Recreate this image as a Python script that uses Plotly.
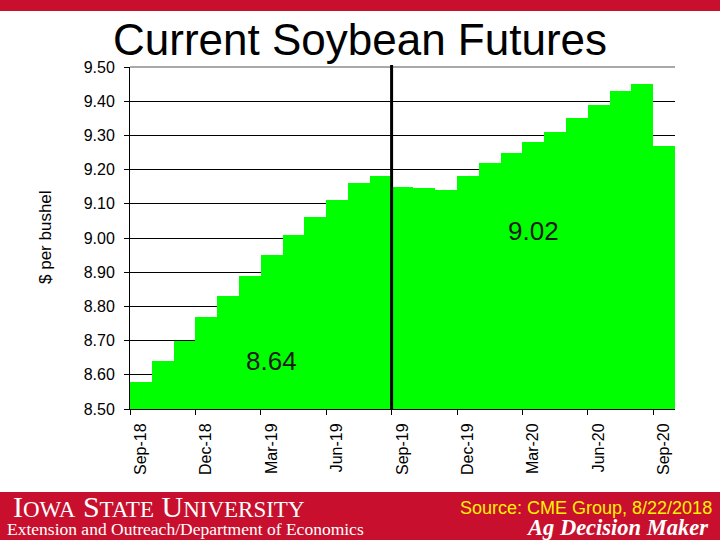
import plotly.graph_objects as go

months = ["Sep-18", "Oct-18", "Nov-18", "Dec-18", "Jan-19", "Feb-19", "Mar-19",
          "Apr-19", "May-19", "Jun-19", "Jul-19", "Aug-19", "Sep-19", "Oct-19",
          "Nov-19", "Dec-19", "Jan-20", "Feb-20", "Mar-20", "Apr-20", "May-20",
          "Jun-20", "Jul-20", "Aug-20", "Sep-20"]
prices = [8.58, 8.64, 8.70, 8.77, 8.83, 8.89, 8.95, 9.01, 9.06, 9.11, 9.16, 9.18,
          9.15, 9.145, 9.14, 9.18, 9.22, 9.25, 9.28, 9.31, 9.35, 9.39, 9.43, 9.45, 9.27]
label_texts = ["8.64", "9.02"]
label_values = [8.64, 9.02]
label_months = ["Mar-19", "Mar-20"]
divider_month = "Sep-19"

W, H = 720, 540
L, R, T, B = 130, 45, 67, 131
PW, PH = W - L - R, H - T - B


def px(x):
    return (x - L) / PW


def py(y):
    return (H - B - y) / PH


idx = list(range(len(months)))
tick_idx = idx[::3]

fig = go.Figure()
fig.add_trace(go.Bar(x=idx, y=prices, marker=dict(color="#00FF00", line=dict(width=0)),
                     hoverinfo="x+y"))

RED = "#C8102E"
shapes = [
    dict(type="line", xref="paper", yref="paper", x0=0, x1=1, y0=1, y1=1,
         line=dict(color="#8C8C8C", width=1.5), layer="above"),
    dict(type="line", xref="x", yref="paper", x0=months.index(divider_month) - 0.5,
         x1=months.index(divider_month) - 0.5, y0=0, y1=py(65),
         line=dict(color="black", width=3), layer="above"),
    dict(type="rect", xref="paper", yref="paper", x0=px(0), x1=px(W), y0=py(11), y1=py(0),
         fillcolor=RED, line=dict(width=0), layer="above"),
    dict(type="rect", xref="paper", yref="paper", x0=px(0), x1=px(W), y0=py(H), y1=py(492),
         fillcolor=RED, line=dict(width=0), layer="above"),
]

annotations = [
    dict(text="Current Soybean Futures", xref="paper", yref="paper", x=px(360), y=py(40),
         xanchor="center", yanchor="middle", showarrow=False,
         font=dict(family="Liberation Sans, Arial", size=44, color="black")),
    dict(text="$ per bushel", xref="paper", yref="paper", x=px(45), y=py(237),
         xanchor="center", yanchor="middle", textangle=-90, showarrow=False,
         font=dict(family="Liberation Sans, Arial", size=17, color="black")),
    dict(text="I<span style='font-size:23px'>OWA</span> S<span style='font-size:23px'>TATE</span> "
              "U<span style='font-size:23px'>NIVERSITY</span>",
         xref="paper", yref="paper", x=px(11), y=py(506), xanchor="left", yanchor="middle",
         showarrow=False, font=dict(family="Liberation Serif, Times New Roman", size=30, color="white")),
    dict(text="Extension and Outreach/Department of Economics", xref="paper", yref="paper",
         x=px(5), y=py(529), xanchor="left", yanchor="middle", showarrow=False,
         font=dict(family="Liberation Serif, Times New Roman", size=17.5, color="white")),
    dict(text="Source: CME Group, 8/22/2018", xref="paper", yref="paper",
         x=px(714), y=py(508), xanchor="right", yanchor="middle", showarrow=False,
         font=dict(family="Liberation Sans, Arial", size=18, color="#FFF200")),
    dict(text="<b><i>Ag Decision Maker</i></b>", xref="paper", yref="paper",
         x=px(710), y=py(527), xanchor="right", yanchor="middle", showarrow=False,
         font=dict(family="Liberation Serif, Times New Roman", size=22.5, color="white")),
]
for t, v, m in zip(label_texts, label_values, label_months):
    annotations.append(dict(text=t, x=months.index(m), y=v, xref="x", yref="y",
                            showarrow=False, xanchor="center", yanchor="middle",
                            font=dict(family="Liberation Sans, Arial", size=26, color="#1a1a1a")))

fig.update_layout(
    width=W, height=H,
    margin=dict(l=L, r=R, t=T, b=B, pad=0),
    paper_bgcolor="white", plot_bgcolor="white",
    bargap=0, showlegend=False,
    shapes=shapes, annotations=annotations,
    xaxis=dict(range=[-0.5, len(months) - 0.5], tickmode="array", tickvals=tick_idx,
               ticktext=[months[i] for i in tick_idx], tickangle=-90,
               ticks="outside", ticklen=7, tickcolor="rgba(0,0,0,0)",
               showgrid=False, zeroline=False, showline=True, linecolor="black", linewidth=1,
               minor=dict(tick0=-0.5, dtick=3, ticks="outside", ticklen=5, tickcolor="black",
                          showgrid=False),
               tickfont=dict(family="Liberation Sans, Arial", size=16, color="black")),
    yaxis=dict(range=[8.5, 9.5], tickmode="linear", tick0=8.5, dtick=0.1, tickformat=".2f",
               showgrid=True, gridcolor="black", gridwidth=1, zeroline=False,
               showline=True, linecolor="black", linewidth=1,
               ticks="outside", ticklen=5, tickcolor="black", ticklabelstandoff=6,
               tickfont=dict(family="Liberation Sans, Arial", size=16, color="black")),
)

fig.write_html("out.html", config={"displayModeBar": False},
               post_script="document.body.style.margin='0';")
